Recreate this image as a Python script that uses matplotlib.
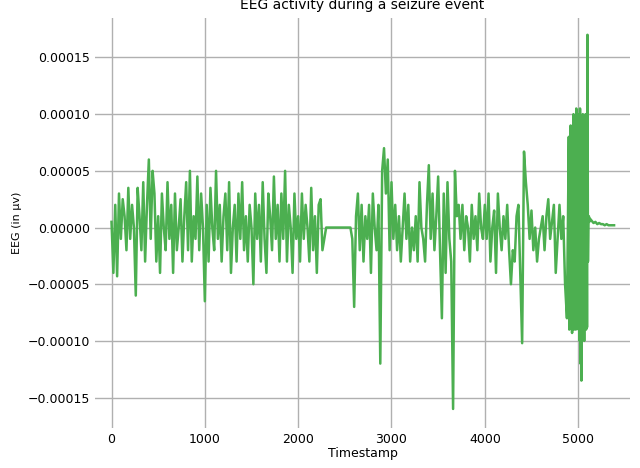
import matplotlib
matplotlib.use("Agg")
import matplotlib.pyplot as plt
import numpy as np

# values, in units of 1e-5
pre_seizure = [
    0.5, -4, 2, -4.3, 3, -1, 2.5, 1, -2, 3.5, -1, 2, 0, -6, 3.5, 1, -2, 4, -3, 2, 6, -1, 5, 3, -3,
    1, -4, 3, 0, -2, 4, -1, 2, -4, 3, -2, 0, 2.5, -3, 1, 4, -2, 5, -3, 1, -1, 4.5, -2, 3, 0,
    -6.5, 2, -3, 3.5, 0, -2, 5, -1, 2, -3, 1, 3, -2, 4, -4, 0, 2, -3, 3, -1, 4, -2, 1, -3, 2,
    0, -5, 3, -1, 2, -3, 4, -1, -4, 3, 1, -2, 4.5, -1, 2, -3, 3, -1, 5, -3, 2, 0, -4, 3, -1,
    1, -3, 3, -1, 2, 0, -3, 3.5, -2, 1, -4, 2, 2.5, -2, -1, 0, 0, 0, 0, 0, 0, 0, 0, 0, 0,
    0, 0, 0, 0, -1, -7, 1, 3, -2, 2, -3, 1, -1, 2, -4, 3, 0, -2, 2, -12, 5, 7, 3, 6, -2,
    4, -1, 2, -2, 1, -3, 0, 3, -1, 2, -3, 0, -2, 1, -3, 4, 0, -1, -3, 2, 5.5, -1, 3, -2, 1,
    4.5, -2, -8, 3, -4, 4, -1, -3, -16, 5, 1, 2, -1, 2, -2, 1, 0, -3, 2, -1, 1, -2, 3, 0, -1,
    2, -1, 3, -3, 0, 1.5, -4, 3, 0, -2, 1, -1, 2, -2, -5, -2, -3, 1, 2, -4, -10.2, 6.7, 4, 2, -1,
    1.5, -2, 0, -3, -1, 0, 1, -2, 1, 2.5, -1, 0.5, 2, -4, -1, 2, -1, 1, -5, -8,
]
seizure = [
    8, -9, 7, -8, 9, -7, 6, -9.3, 8, -8, 10, -9, 9, -8, 7, -9, 10.5, -8, 9, -7,
    10, -9, 8, -10, 10.5, -12, 9, -13.5, 8, -9, 10, -8, 7, -10, 9, -8, 10, -9, 8, -8.8,
    17, -3, 0.5, 1, 0.5, 0.8,
]
tail = [0.6, 0.4, 0.5, 0.3, 0.4, 0.3, 0.3, 0.2, 0.3, 0.2, 0.2, 0.2, 0.2]

t_pre = np.arange(len(pre_seizure)) * 20
t_seiz = t_pre[-1] + 20 + np.arange(len(seizure)) * 5
t_tail = t_seiz[-1] + 20 + np.arange(len(tail)) * 20

timestamps = np.concatenate([t_pre, t_seiz, t_tail])
eeg = np.concatenate([pre_seizure, seizure, tail]) * 1e-5

fig = plt.figure(figsize=(6.4, 4.68), dpi=100)
ax = fig.add_axes([0.148, 0.085, 0.837, 0.877])
ax.plot(timestamps, eeg, color="#4caf50", linewidth=1.8)
ax.set_title("EEG activity during a seizure event", fontsize=10)
ax.set_xlabel("Timestamp", fontsize=9, labelpad=1)
ax.set_ylabel("EEG (in µv)", fontsize=8)
ax.set_xlim(-180, 5560)
ax.set_ylim(-0.000177, 0.000185)
ax.set_yticks([-0.00015, -0.0001, -0.00005, 0, 0.00005, 0.0001, 0.00015])
ax.set_yticklabels(["−0.00015", "−0.00010", "−0.00005", "0.00000",
                    "0.00005", "0.00010", "0.00015"])
ax.tick_params(labelsize=9, length=0)
for s in ax.spines.values():
    s.set_visible(False)
ax.grid(True, color="#b0b0b0", linewidth=1)
plt.savefig("out.png")
